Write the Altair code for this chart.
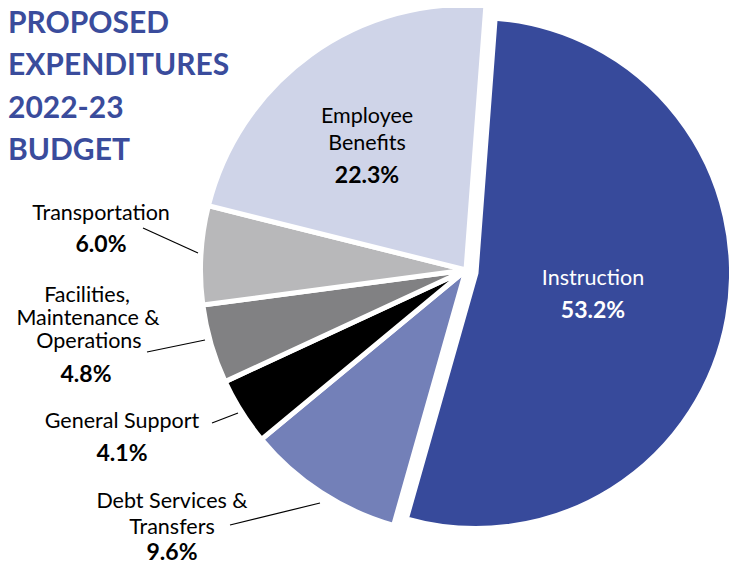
import math
import altair as alt
import pandas as pd

# ---- data ----
categories = ["Instruction", "Debt Services & Transfers", "General Support",
              "Facilities, Maintenance & Operations", "Transportation", "Employee Benefits"]
values = [53.2, 9.6, 4.1, 4.8, 6.0, 22.3]
colors = ["#374a9b", "#7380b8", "#000000", "#818183", "#b8b8ba", "#cfd4e8"]

title_lines = ["PROPOSED", "EXPENDITURES", "2022-23", "BUDGET"]

label_lines = ["Instruction", "Employee", "Benefits", "Transportation",
               "Facilities,", "Maintenance &", "Operations", "General Support",
               "Debt Services &", "Transfers"]
pct_labels = ["53.2%", "22.3%", "6.0%", "4.8%", "4.1%", "9.6%"]

# ---- layout (pixel positions of annotations) ----
title_y = [25, 67, 110, 152]
label_x = [585, 359, 359, 93, 79, 80, 81, 114, 164, 164]
label_y = [277, 115, 142, 212, 294, 317, 340, 420, 500, 526]
label_color = ["white", "black", "black", "black", "black", "black", "black", "black", "black", "black"]
pct_x = [585, 359, 93, 78, 114, 164]
pct_y = [310, 175, 244, 374, 453, 552]
pct_color = ["white", "black", "black", "black", "black", "black"]
lead_x = [135, 139, 204, 222]
lead_y = [220, 344, 415, 517]
lead_x2 = [190, 197, 230, 312]
lead_y2 = [245, 332, 405, 495]

df = pd.DataFrame({"category": categories, "value": values, "order": list(range(len(values)))})
offset = math.radians(4.3)

base = alt.Chart(df).transform_window(
    cum="sum(value)", sort=[alt.SortField("order")], frame=[None, 0]
).transform_calculate(start="datum.cum - datum.value")

enc = dict(
    theta=alt.Theta("start:Q", scale=alt.Scale(domain=[0, 100], range=[offset, offset + 2 * math.pi])),
    theta2="cum:Q",
    color=alt.Color("category:N", scale=alt.Scale(domain=categories, range=colors), legend=None),
)

others = base.transform_filter("datum.category != 'Instruction'").mark_arc(
    radius=265.5, stroke="white", strokeWidth=5, x=458, y=262
).encode(**enc)

instr = base.transform_filter("datum.category == 'Instruction'").mark_arc(
    radius=255.5, stroke="white", strokeWidth=5, x=468, y=265
).encode(**enc)

title_df = pd.DataFrame({"text": title_lines, "y": title_y})
title = alt.Chart(title_df).mark_text(
    align="left", baseline="alphabetic", font="Lato", fontWeight="bold", fontSize=30, color="#3a4c9c"
).encode(x=alt.value(0), y=alt.Y("y:Q", scale=None), text="text:N")

lab_df = pd.DataFrame({"text": label_lines, "x": label_x, "y": label_y, "c": label_color})
labels = alt.Chart(lab_df).mark_text(
    align="center", baseline="alphabetic", font="Lato", fontSize=21.5
).encode(x=alt.X("x:Q", scale=None), y=alt.Y("y:Q", scale=None), text="text:N",
         color=alt.Color("c:N", scale=None))

pct_df = pd.DataFrame({"text": pct_labels, "x": pct_x, "y": pct_y, "c": pct_color})
pcts = alt.Chart(pct_df).mark_text(
    align="center", baseline="alphabetic", font="Lato", fontWeight="bold", fontSize=23
).encode(x=alt.X("x:Q", scale=None), y=alt.Y("y:Q", scale=None), text="text:N",
         color=alt.Color("c:N", scale=None))

lead_df = pd.DataFrame({"x": lead_x, "y": lead_y, "x2": lead_x2, "y2": lead_y2})
leads = alt.Chart(lead_df).mark_rule(color="black", strokeWidth=1.2).encode(
    x=alt.X("x:Q", scale=None), y=alt.Y("y:Q", scale=None),
    x2="x2:Q", y2="y2:Q")

chart = alt.layer(others, instr, title, labels, pcts, leads).properties(
    width=721, height=553, autosize=alt.AutoSizeParams(type="none"), padding=0
).configure_view(stroke=None).resolve_scale(color="independent")

chart.save("out.html", embed_options={"renderer": "svg", "actions": False})
